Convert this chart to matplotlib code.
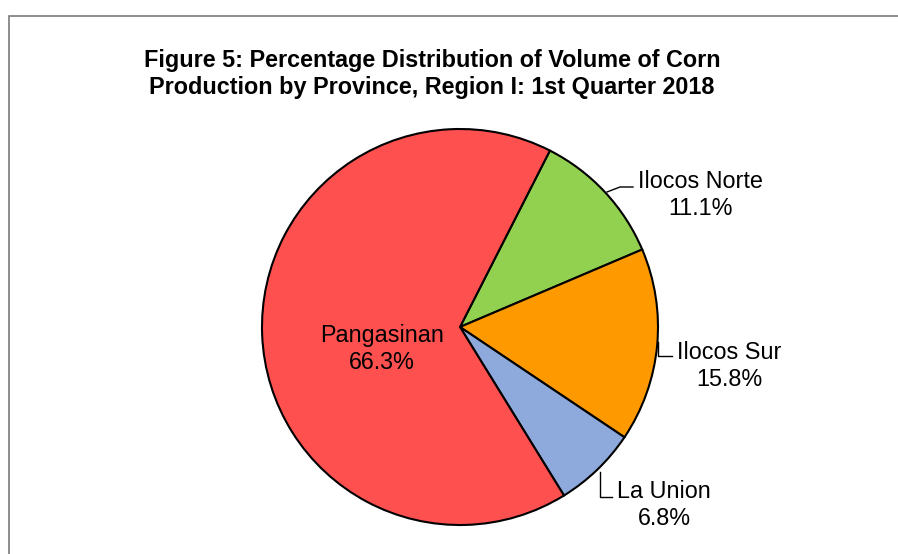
import matplotlib
matplotlib.use("Agg")
import matplotlib.pyplot as plt

plt.rcParams['font.family'] = ['Liberation Sans', 'DejaVu Sans']

# data
provinces = ["Ilocos Norte", "Ilocos Sur", "La Union", "Pangasinan"]
shares = [11.1, 15.8, 6.8, 66.3]
colors = ["#92D050", "#FF9900", "#8EA9DB", "#FF5050"]

W, H = 898, 554
fig = plt.figure(figsize=(W / 100, H / 100), dpi=100)
ax = fig.add_axes([0, 0, 1, 1])
ax.set_xlim(0, W)
ax.set_ylim(0, H)
ax.set_aspect("equal")
ax.axis("off")

# chart area border (cropped on the right and bottom)
ax.plot([8.5, 8.5, W + 5], [-5, H - 15.5, H - 15.5], color="#7a7a7a", lw=1.2,
        solid_joinstyle="miter")

cx, cy, r = 460, H - 327, 198
ax.pie(shares, colors=colors, startangle=63, counterclock=False,
       center=(cx, cy), radius=r, frame=True,
       wedgeprops=dict(edgecolor="black", linewidth=1.5))
ax.set_xlim(0, W)
ax.set_ylim(0, H)
ax.axis("off")

ax.text(432, H - 74, "Figure 5: Percentage Distribution of Volume of Corn\n"
        "Production by Province, Region I: 1st Quarter 2018",
        ha="center", va="center", fontsize=16.8, fontweight="bold",
        linespacing=1.24)

# labels: (x, y) in pixels from top-left
label_pos = {
    "Ilocos Norte": (700, 195),
    "Ilocos Sur": (729, 366),
    "La Union": (664, 505),
    "Pangasinan": (382, 349),
}
for name, val in zip(provinces, shares):
    x, y = label_pos[name]
    ax.text(x, H - y, f"{name}\n{val:.1f}%", ha="center", va="center",
            fontsize=16.8, linespacing=1.24)

# leader lines
leaders = [
    [(607, 192), (620, 187), (633, 187)],
    [(658, 342), (658, 356), (672, 356)],
    [(600, 472), (600, 497), (612, 497)],
]
for pts in leaders:
    xs = [p[0] for p in pts]
    ys = [H - p[1] for p in pts]
    ax.plot(xs, ys, color="black", lw=1.0)

fig.savefig("out.png", dpi=100)
